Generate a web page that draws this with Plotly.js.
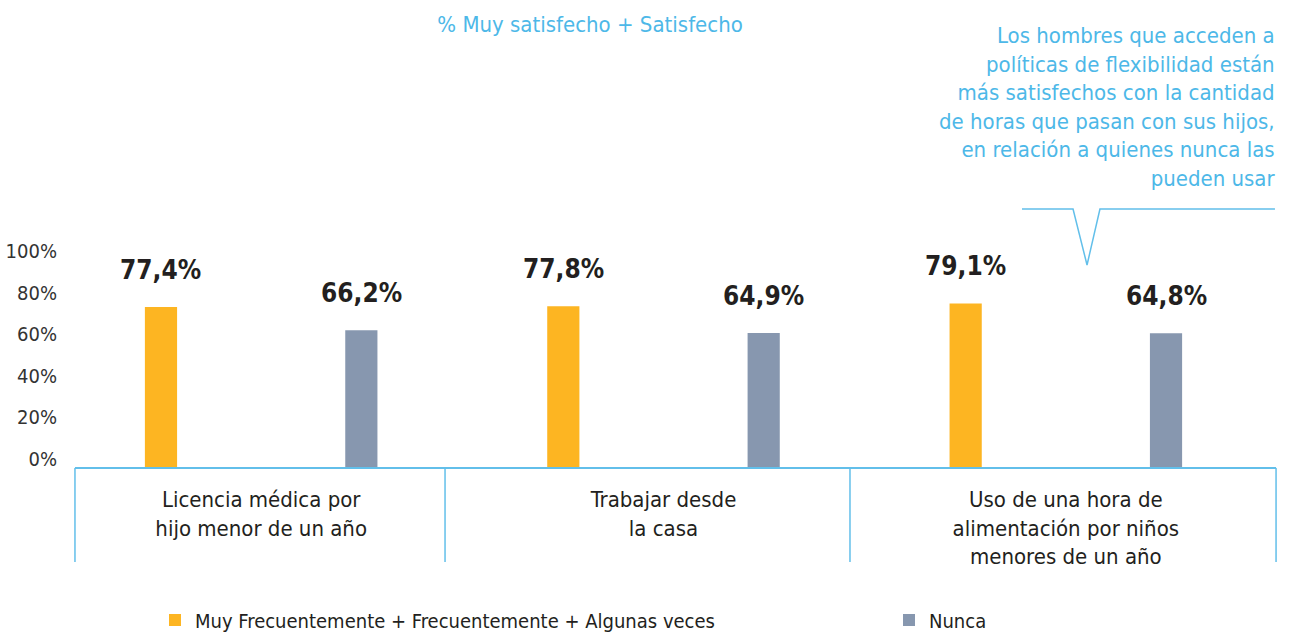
<!DOCTYPE html>
<html>
<head>
<meta charset="utf-8">
<script src="https://cdn.plot.ly/plotly-3.0.1.min.js"></script>
<style>html,body{margin:0;padding:0;background:#fff;}#chart{width:1294px;height:635px;}</style>
</head>
<body>
<div id="chart"></div>
<script>
// ---- data ----
const categories = [
  "Licencia médica por<br>hijo menor de un año",
  "Trabajar desde<br>la casa",
  "Uso de una hora de<br>alimentación por niños<br>menores de un año"
];
const seriesNames = ["Muy Frecuentemente + Frecuentemente + Algunas veces", "Nunca"];
const frecuente = [77.4, 77.8, 79.1];
const nunca = [66.2, 64.9, 64.8];
const yTicks = [0, 20, 40, 60, 80, 100];
const chartTitle = "% Muy satisfecho + Satisfecho";
const calloutText = "Los hombres que acceden a<br>políticas de flexibilidad están<br>más satisfechos con la cantidad<br>de horas que pasan con sus hijos,<br>en relación a quienes nunca las<br>pueden usar";

// ---- style ----
const FONT = '"DejaVu Sans Condensed", "Liberation Sans Narrow", sans-serif';
const BLUE = '#4DB8E8';
const LINE_BLUE = '#62BFEA';
const YELLOW = '#FDB522';
const GRAY = '#8797AF';
const DARK = '#231F20';
const BAR_W = 0.08;
const OFF = 0.249;

const fmt = v => v.toFixed(1).replace('.', ',') + '%';
const series = [frecuente, nunca];
const colors = [YELLOW, GRAY];
const offsets = [-OFF - BAR_W / 2, OFF - BAR_W / 2];
const legendIds = ['legend', 'legend2'];

const traces = series.map((vals, s) => ({
  type: 'bar',
  name: seriesNames[s],
  x: categories,
  y: vals,
  width: BAR_W,
  offset: offsets[s],
  marker: {color: colors[s]},
  legend: legendIds[s],
  hoverinfo: 'skip'
}));

const annotations = [];
series.forEach((vals, s) => {
  vals.forEach((v, i) => {
    annotations.push({
      x: i + offsets[s] + BAR_W / 2, xref: 'x',
      y: v, yref: 'y',
      text: fmt(v), showarrow: false,
      yanchor: 'bottom', yshift: 20,
      font: {family: FONT, size: 26, color: DARK, weight: 'bold'}
    });
  });
});
annotations.push({
  xref: 'paper', yref: 'paper', x: 1.0083, y: 2.15,
  xanchor: 'right', yanchor: 'top', align: 'right',
  text: calloutText, showarrow: false,
  font: {family: FONT, size: 22, color: BLUE}
});

// category box boundaries (paper fraction of plot width)
const boundaries = [0.0124, 0.319, 0.6545, 1.0075];
const shapes = [{
  type: 'line', xref: 'paper', yref: 'paper', x0: boundaries[0], x1: boundaries[3], y0: 0, y1: 0,
  line: {color: LINE_BLUE, width: 2}
}];
boundaries.forEach(b => shapes.push({
  type: 'line', xref: 'paper', yref: 'paper', x0: b, x1: b, y0: 0, y1: -0.452,
  line: {color: LINE_BLUE, width: 1.5}
}));
shapes.push({
  type: 'path', xref: 'paper', yref: 'paper',
  path: 'M0.797,1.245 L0.8393,1.245 L0.8509,0.976 L0.8616,1.245 L1.0066,1.245',
  line: {color: LINE_BLUE, width: 1.5}
});

const legendBase = {
  orientation: 'h', xanchor: 'left', yanchor: 'middle',
  xref: 'container', yref: 'container', y: 15 / 635,
  bgcolor: 'rgba(0,0,0,0)',
  font: {family: FONT, size: 20, color: DARK}
};

const layout = {
  width: 1294, height: 635,
  margin: {l: 60, r: 27, t: 260, b: 167, autoexpand: false},
  paper_bgcolor: '#fff', plot_bgcolor: '#fff',
  font: {family: FONT, color: '#333'},
  barmode: 'overlay',
  title: {
    text: chartTitle, x: 0.456, xanchor: 'center', y: 0.961, yanchor: 'middle',
    font: {family: FONT, size: 22, color: BLUE}
  },
  xaxis: {
    type: 'category', range: [-0.5, 2.5], showgrid: false, zeroline: false, showline: false,
    automargin: false,
    ticks: '', tickfont: {family: FONT, size: 22, color: DARK}, ticklabelstandoff: 16
  },
  yaxis: {
    range: [0, 100], tickmode: 'array', tickvals: yTicks, ticktext: yTicks.map(t => t + '%'),
    showgrid: false, zeroline: false, automargin: false,
    showline: false, ticks: '', ticklabelshift: -9, ticklabelstandoff: 2,
    tickfont: {family: FONT, size: 20, color: '#333'}
  },
  showlegend: true,
  legend: Object.assign({}, legendBase, {x: 155 / 1294}),
  legend2: Object.assign({}, legendBase, {x: 889 / 1294}),
  annotations: annotations,
  shapes: shapes
};

Plotly.newPlot('chart', traces, layout, {displayModeBar: false, staticPlot: true});
</script>
</body>
</html>
